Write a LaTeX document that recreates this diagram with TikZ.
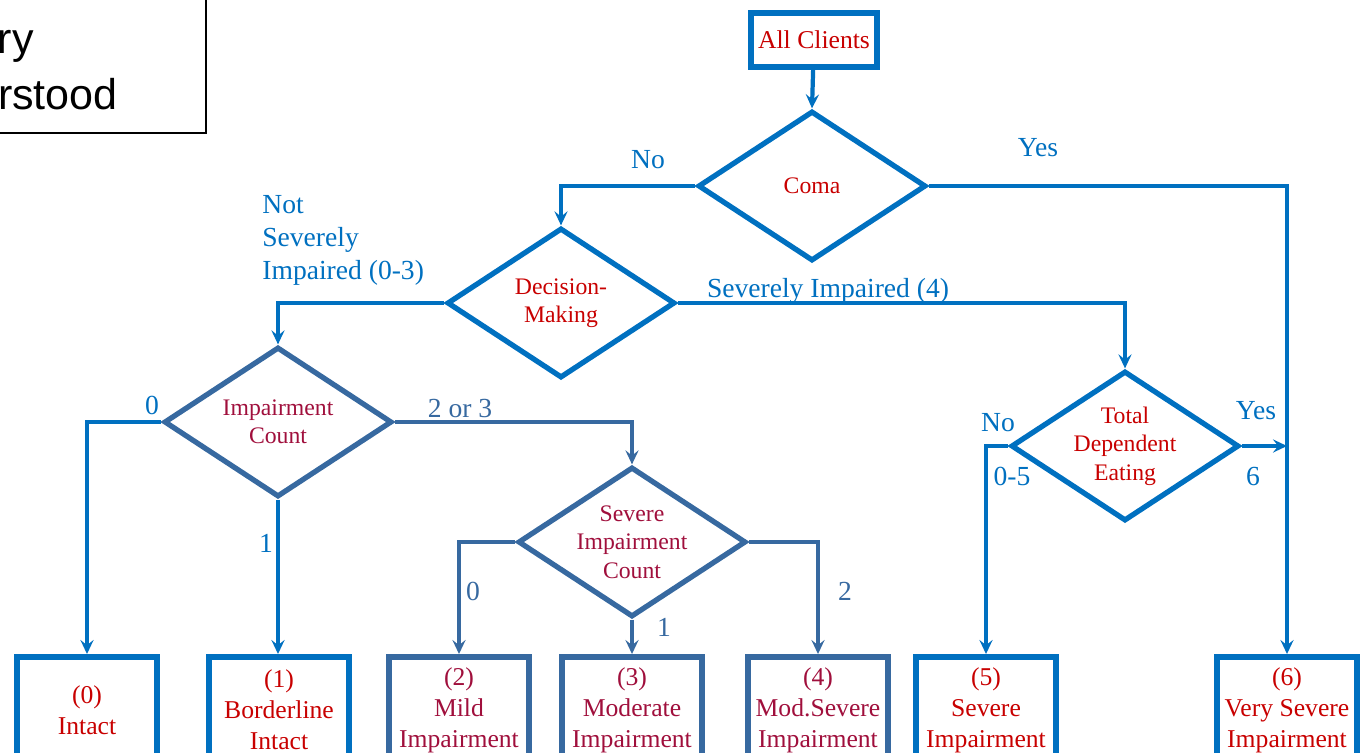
\documentclass[tikz,border=0pt]{standalone}
\usepackage{fontspec}
\setmainfont{Liberation Serif}
\newfontfamily\boxsans{Liberation Sans}
\usetikzlibrary{shapes.geometric,arrows.meta}
\definecolor{bblue}{RGB}{0,112,192}
\definecolor{sblue}{RGB}{55,105,160}
\definecolor{bred}{RGB}{200,0,0}
\definecolor{sred}{RGB}{160,15,60}
\tikzset{
    box/.style={draw=#1,line width=3.4pt,minimum width=2.8cm,minimum height=2.12cm,align=center,font=\fontsize{14.6}{17.6}\selectfont,inner sep=0pt},
    dia/.style={draw=#1,diamond,line width=3pt,minimum width=4.56cm,minimum height=3.0cm,aspect=1.5,inner sep=0pt,align=center,font=\fontsize{13.5}{16.2}\selectfont},
    conn/.style={draw=#1,line width=2.4pt,-{Stealth[length=8pt,width=7.5pt,inset=3pt]}},
    lbl/.style={text=#1,inner sep=0pt,font=\fontsize{15.7}{18.8}\selectfont},
}
\begin{document}
\begin{tikzpicture}[x=0.02cm,y=-0.02cm]
    \useasboundingbox (0,0) rectangle (1365,753);

    % note box, cut by the page edge
    \draw[line width=0.9pt] (-20,-20) rectangle (206,133);
    \node[anchor=base east,inner sep=0pt,font=\boxsans\fontsize{24.5}{27}\selectfont] (notea) at (34,54) {ry};
    \node[anchor=base east,inner sep=0pt,font=\boxsans\fontsize{24.5}{27}\selectfont] (noteb) at (118,110) {rstood};

    % decisions
    \node[box=bblue,text=bred,minimum width=2.52cm,minimum height=1.08cm] (all) at (814,40) {All Clients};
    \node[dia=bblue,text=bred] (coma) at (812,186) {Coma};
    \node[dia=bblue,text=bred] (dec) at (561,303) {Decision-\\Making};
    \node[dia=sblue,text=sred] (imp) at (278,422) {Impairment\\Count};
    \node[dia=sblue,text=sred] (sev) at (632,542) {Severe\\Impairment\\Count};
    \node[dia=bblue,text=bred] (eat) at (1125,446) {Total\\Dependent\\Eating};

    % outcomes
    \node[box=bblue,text=bred] (b0) at (87,710) {(0)\\Intact};
    \node[box=bblue,text=bred] (b1) at (279,710) {(1)\\Borderline\\Intact};
    \node[box=sblue,text=sred] (b2) at (459,710) {(2)\\Mild\\Impairment};
    \node[box=sblue,text=sred] (b3) at (632,710) {(3)\\Moderate\\Impairment};
    \node[box=sblue,text=sred] (b4) at (818,710) {(4)\\Mod.Severe\\Impairment};
    \node[box=bblue,text=bred] (b5) at (986,710) {(5)\\Severe\\Impairment};
    \node[box=bblue,text=bred] (b6) at (1287,710) {(6)\\Very Severe\\Impairment};

    % connectors
    \draw[conn=bblue] (all) -- (coma.north);
    \draw[conn=bblue] (coma.west) -| (dec.north);
    \draw[conn=bblue] (coma.east) -| (b6.north);
    \draw[conn=bblue] (dec.west) -| (imp.north);
    \draw[conn=bblue] (dec.east) -| (eat.north);
    \draw[conn=bblue] (imp.west) -| (b0.north);
    \draw[conn=bblue] (imp.south) -- (imp.south |- b1.north);
    \draw[conn=sblue] (imp.east) -| (sev.north);
    \draw[conn=sblue] (sev.west) -| (b2.north);
    \draw[conn=sblue] (sev.south) -- (b3.north);
    \draw[conn=sblue] (sev.east) -| (b4.north);
    \draw[conn=bblue] (eat.west) -| (b5.north);
    \draw[conn=bblue] (eat.east) -- (eat.east -| b6.north);

    % labels
    \node[lbl=bblue] (lno) at (648,160) {No};
    \node[lbl=bblue] (lyes) at (1038,148) {Yes};
    \node[lbl=bblue,align=left,anchor=west] (lnot) at (262,240) {Not\\Severely\\Impaired (0-3)};
    \node[lbl=bblue] (lsev) at (828,291) {Severely Impaired (4)};
    \node[lbl=bblue] (l0) at (152,405) {0};
    \node[lbl=bblue] (l1) at (266,543) {1};
    \node[lbl=sblue] (l23) at (460,408) {2 or 3};
    \node[lbl=sblue] (ls0) at (473,591) {0};
    \node[lbl=sblue] (ls1) at (664,627) {1};
    \node[lbl=sblue] (ls2) at (845,591) {2};
    \node[lbl=bblue] (eno) at (998,423) {No};
    \node[lbl=bblue] (e05) at (1012,476) {0-5};
    \node[lbl=bblue] (eyes) at (1256,411) {Yes};
    \node[lbl=bblue] (e6) at (1253,476) {6};
\end{tikzpicture}
\end{document}
